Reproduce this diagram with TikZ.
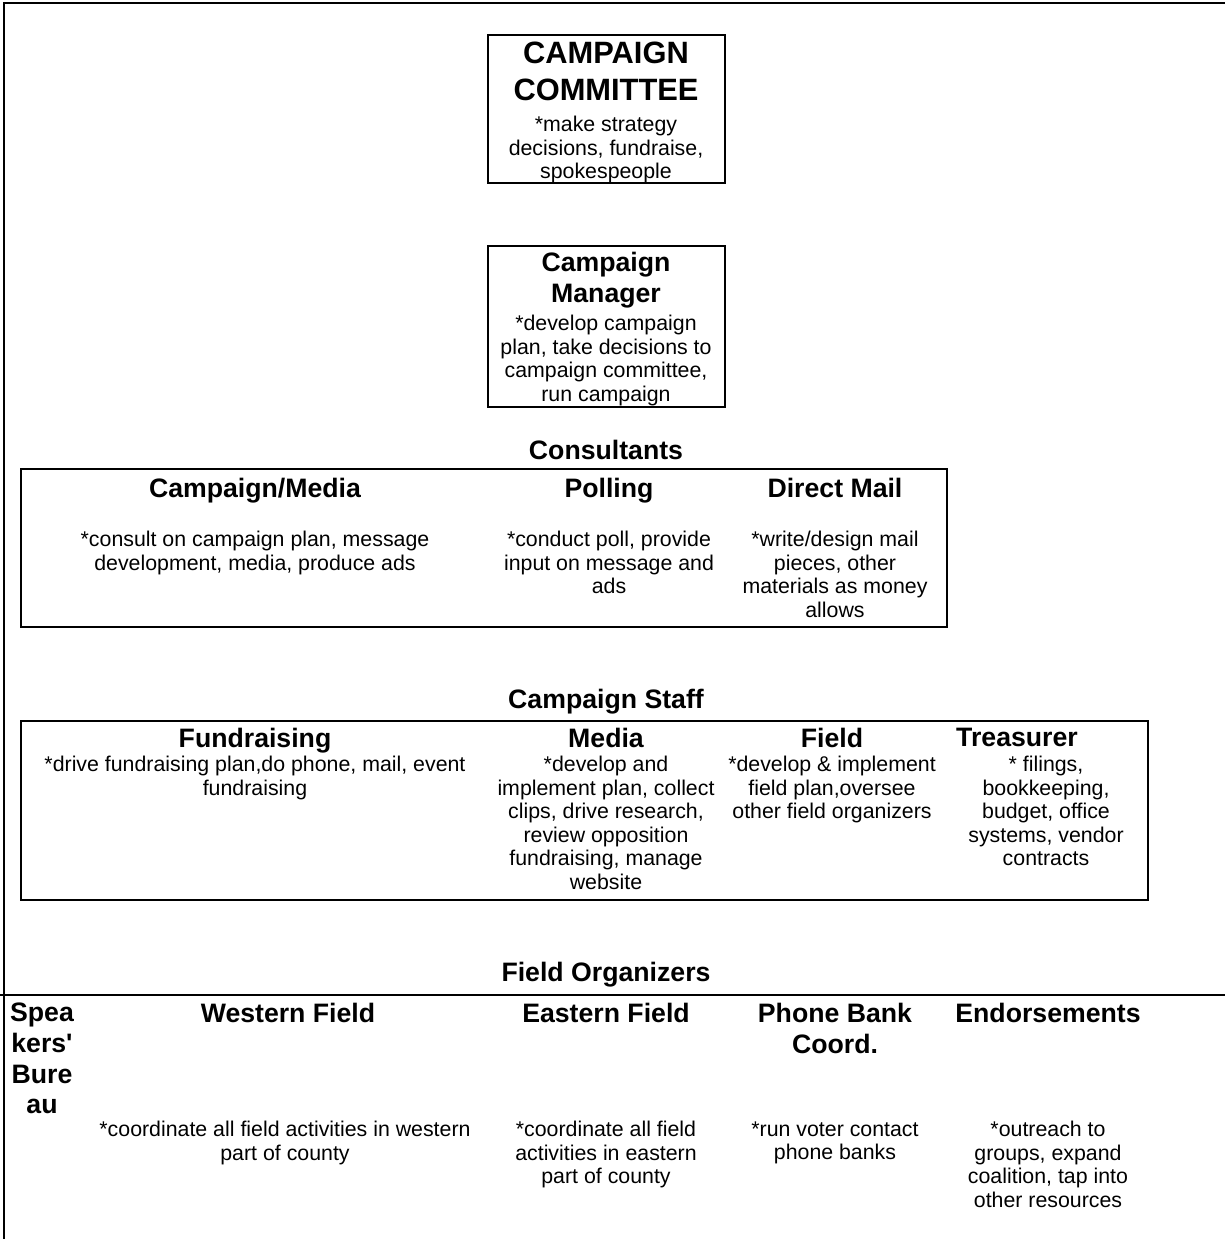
\documentclass[tikz,border=0pt]{standalone}
\usepackage{fontspec}
\setmainfont{Liberation Sans}[Ligatures=TeXOff]
\usetikzlibrary{positioning}
\tikzset{
headstyle/.style={
  font=\fontsize{16}{18.4}\selectfont\bfseries,
  inner sep=0pt,
  align=center,
  anchor=north,
  }
}
\tikzset{
notestyle/.style={
  font=\fontsize{12.8}{14.1}\selectfont,
  inner sep=0pt,
  align=center,
  anchor=north,
  }
}
\tikzset{
myframe/.style={
  line width=1.2pt,
  }
}

\begin{document}
\begin{tikzpicture}[x=0.6pt, y=-0.6pt]
    \useasboundingbox (0,0) rectangle (1225,1239);
    \draw[myframe] (1225,3) -- (4,3) -- (4,1239);

    % committee part
    \draw[myframe] (488,35) rectangle (725,183);
    \node[headstyle, font=\fontsize{18.5}{22}\selectfont\bfseries] (comm_head) at (606,42) {CAMPAIGN\\COMMITTEE};
    \node[notestyle, below=9pt of comm_head] (comm_note) {*make strategy\\decisions, fundraise,\\spokespeople};

    % manager part
    \draw[myframe] (488,246) rectangle (725,407);
    \node[headstyle] (mgr_head) at (606,252) {Campaign\\Manager};
    \node[notestyle, below=4pt of mgr_head] (mgr_note) {*develop campaign\\plan, take decisions to\\campaign committee,\\run campaign};

    % consultants part
    \node[headstyle] (cons_lbl) at (606,440) {Consultants};
    \draw[myframe] (21,469) rectangle (947,627);
    \node[headstyle] (media_head) at (255,478) {Campaign/Media};
    \node[headstyle] (poll_head) at (609,478) {Polling};
    \node[headstyle] (mail_head) at (835,478) {Direct Mail};
    \node[notestyle] (media_note) at (255,531) {*consult on campaign plan, message\\development, media, produce ads};
    \node[notestyle] (poll_note) at (609,531) {*conduct poll, provide\\input on message and\\ads};
    \node[notestyle] (mail_note) at (835,531) {*write/design mail\\pieces, other\\materials as money\\allows};

    % staff part
    \node[headstyle] (staff_lbl) at (606,689) {Campaign Staff};
    \draw[myframe] (21,721) rectangle (1148,900);
    \node[headstyle] (fund_head) at (255,728) {Fundraising};
    \node[headstyle] (smedia_head) at (606,728) {Media};
    \node[headstyle] (field_head) at (832,728) {Field};
    \node[headstyle] (treas_head) at (1017,728) {Treasurer};
    \node[notestyle] (fund_note) at (255,756) {*drive fundraising plan,do phone, mail, event\\fundraising};
    \node[notestyle] (smedia_note) at (606,756) {*develop and\\implement plan, collect\\clips, drive research,\\review opposition\\fundraising, manage\\website};
    \node[notestyle] (field_note) at (832,756) {*develop \& implement\\field plan,oversee\\other field organizers};
    \node[notestyle] (treas_note) at (1046,756) {* filings,\\bookkeeping,\\budget, office\\systems, vendor\\contracts};

    % organizers part
    \node[headstyle] (org_lbl) at (606,962) {Field Organizers};
    \draw[myframe] (0,995) -- (1225,995);
    \node[headstyle] (spk_head) at (42,1003) {Spea\\kers'\\Bure\\au};
    \node[headstyle] (west_head) at (288,1003) {Western Field};
    \node[headstyle] (east_head) at (606,1003) {Eastern Field};
    \node[headstyle] (phone_head) at (835,1003) {Phone Bank\\Coord.};
    \node[headstyle] (endo_head) at (1048,1003) {Endorsements};
    \node[notestyle] (west_note) at (285,1121) {*coordinate all field activities in western\\part of county};
    \node[notestyle] (east_note) at (606,1121) {*coordinate all field\\activities in eastern\\part of county};
    \node[notestyle] (phone_note) at (835,1121) {*run voter contact\\phone banks};
    \node[notestyle] (endo_note) at (1048,1121) {*outreach to\\groups, expand\\coalition, tap into\\other resources};
\end{tikzpicture}
\end{document}
